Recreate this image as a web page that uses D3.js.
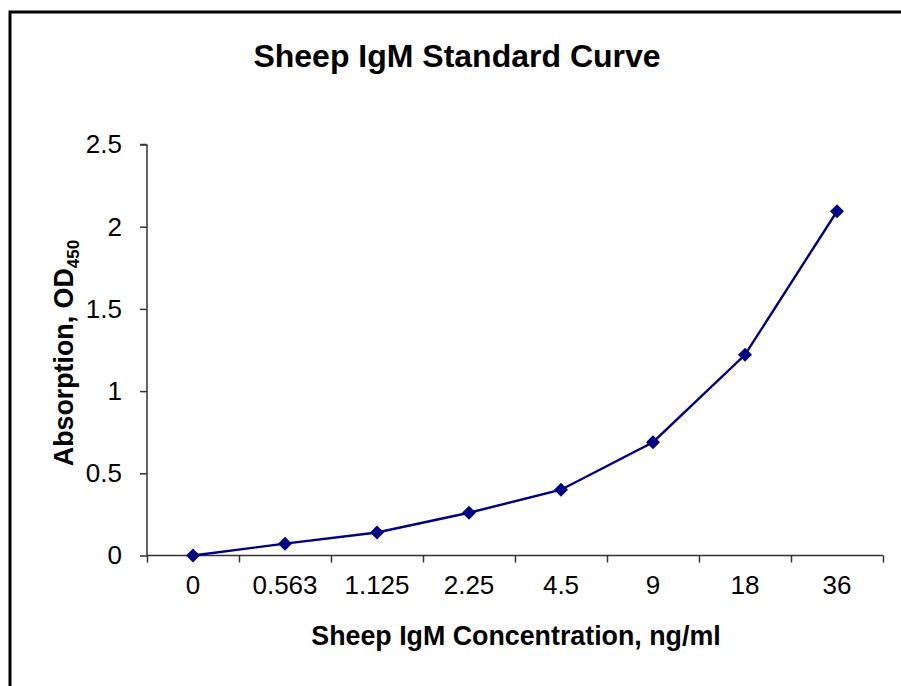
<!DOCTYPE html>
<html>
<head>
<meta charset="utf-8">
<script src="https://cdn.jsdelivr.net/npm/d3@7/dist/d3.min.js"></script>
<style>
  html, body { margin: 0; padding: 0; background: #fff; }
  svg { display: block; }
  text { font-family: "Liberation Sans", Arial, sans-serif; fill: #000; }
</style>
</head>
<body>
<svg id="chart" width="901" height="686"></svg>
<script>
const categories = ["0", "0.563", "1.125", "2.25", "4.5", "9", "18", "36"];
const absorbance = [0.0, 0.072, 0.14, 0.26, 0.40, 0.689, 1.221, 2.094];
const yTicks = [0, 0.5, 1, 1.5, 2, 2.5];
const yTickLabels = ["0", "0.5", "1", "1.5", "2", "2.5"];

const svg = d3.select("#chart");
const W = 901, H = 686;
const plot = { left: 147, right: 883, top: 144.5, bottom: 555.5 };

svg.append("rect").attr("x", 0).attr("y", 0).attr("width", W).attr("height", H).attr("fill", "#fff");
// chart border (extends beyond the right and bottom edge)
svg.append("rect").attr("x", 10).attr("y", 12).attr("width", 930).attr("height", 720)
  .attr("fill", "none").attr("stroke", "#000").attr("stroke-width", 3);

const x = d3.scaleBand().domain(categories).range([plot.left, plot.right]).padding(0);
const xEdges = d3.scaleLinear().domain([0, categories.length]).range([plot.left, plot.right]);
const y = d3.scaleLinear().domain([0, 2.5]).range([plot.bottom, plot.top]);

const axisColor = "#333";

// Y axis
const yAxis = svg.append("g").attr("transform", `translate(${plot.left},0)`)
  .call(d3.axisLeft(y).tickValues(yTicks).tickSize(7).tickPadding(18)
    .tickFormat((d, i) => yTickLabels[i]));
yAxis.select(".domain").attr("stroke", axisColor).attr("stroke-width", 1.5).attr("d", `M0,${plot.top}H-7M0,${plot.top}V${plot.bottom}`);
yAxis.selectAll(".tick line").attr("stroke", axisColor).attr("stroke-width", 1.5);
yAxis.selectAll(".tick text").attr("font-size", 26).attr("fill", "#000")
  .attr("font-family", "'Liberation Sans', Arial, sans-serif");

// X axis: tick marks at category boundaries
const xAxisTicks = svg.append("g").attr("transform", `translate(0,${plot.bottom})`)
  .call(d3.axisBottom(xEdges).tickValues(d3.range(categories.length + 1)).tickSize(7).tickFormat(""));
xAxisTicks.select(".domain").attr("stroke", axisColor).attr("stroke-width", 1.5).attr("d", `M${plot.left},0H${plot.right}`);
xAxisTicks.selectAll(".tick line").attr("stroke", axisColor).attr("stroke-width", 1.5);

// X labels at band centers
const xAxisLabels = svg.append("g").attr("transform", `translate(0,${plot.bottom})`)
  .call(d3.axisBottom(x).tickSize(0).tickPadding(20));
xAxisLabels.select(".domain").remove();
xAxisLabels.selectAll(".tick text").attr("font-size", 26).attr("fill", "#000")
  .attr("font-family", "'Liberation Sans', Arial, sans-serif");

// line
const color = "#000080";
const line = d3.line().x((d, i) => x(categories[i]) + x.bandwidth() / 2).y(d => y(d));
svg.append("path").datum(absorbance).attr("d", line)
  .attr("fill", "none").attr("stroke", color).attr("stroke-width", 2.4);

// diamond markers
const s = 7;
svg.append("g").selectAll("path").data(absorbance).join("path")
  .attr("transform", (d, i) => `translate(${x(categories[i]) + x.bandwidth() / 2},${y(d)})`)
  .attr("d", `M0,${-s}L${s},0L0,${s}L${-s},0Z`)
  .attr("fill", color);

// Title
svg.append("text").attr("x", 457).attr("y", 67).attr("text-anchor", "middle")
  .attr("font-size", 32).attr("font-weight", "bold").text("Sheep IgM Standard Curve");

// X axis title
svg.append("text").attr("x", 516).attr("y", 645).attr("text-anchor", "middle")
  .attr("font-size", 26.8).attr("font-weight", "bold").text("Sheep IgM Concentration, ng/ml");

// Y axis title
const yt = svg.append("text").attr("transform", `translate(73,353) rotate(-90)`)
  .attr("text-anchor", "middle").attr("font-size", 26.8).attr("font-weight", "bold");
yt.append("tspan").text("Absorption, OD");
yt.append("tspan").attr("font-size", 17).attr("dy", 6).text("450");
</script>
</body>
</html>
